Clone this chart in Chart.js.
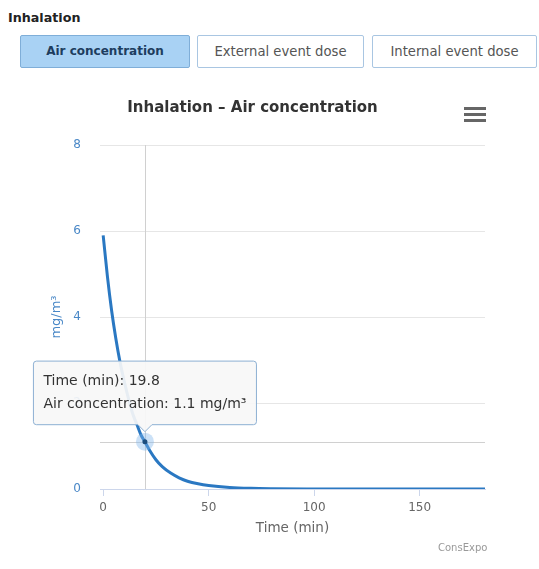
<!DOCTYPE html>
<html>
<head>
<meta charset="utf-8">
<script src="https://cdn.jsdelivr.net/npm/chart.js@4.4.1/dist/chart.umd.min.js"></script>
<style>
    body { margin: 0; background: #fff; font-family: "DejaVu Sans", sans-serif; width: 539px; height: 569px; position: relative; overflow: hidden; }
    .section { position: absolute; left: 8px; top: 10px; font-size: 12.7px; font-weight: bold; color: #222; }
    .btn { position: absolute; top: 35px; height: 33px; box-sizing: border-box; border: 1px solid #a9c6e2; border-radius: 2px;
           background: #fff; color: #555; font-size: 13.2px; line-height: 31px; text-align: center; }
    .btn.active { background: #a9d2f4; border-color: #7faed8; color: #1d3d5e; font-weight: bold; font-size: 12px; }
    #wrap { position: absolute; left: 0; top: 80px; width: 539px; height: 489px; }
    .menu { position: absolute; left: 464px; top: 107px; width: 22px; }
    .menu div { height: 3px; background: #666; margin-bottom: 3px; }
    .credit { position: absolute; left: 438px; top: 542px; font-size: 10px; color: #999; }
</style>
</head>
<body>
<div class="section">Inhalation</div>
<div class="btn active" style="left:20px;width:170px;">Air concentration</div>
<div class="btn" style="left:197px;width:167px;">External event dose</div>
<div class="btn" style="left:372px;width:165px;">Internal event dose</div>
<div id="wrap"><canvas id="chart"></canvas></div>
<div class="menu"><div></div><div></div><div></div></div>
<div class="credit">ConsExpo</div>

<script>
// values
const times = [0, 2, 4, 6, 8, 10, 12, 14, 16, 18, 19.8, 22, 25, 28, 32, 36, 40, 45, 50, 60, 70, 80, 100, 130, 160, 181];
const airConc = [5.9, 4.95, 4.15, 3.5, 2.95, 2.5, 2.1, 1.75, 1.5, 1.25, 1.1, 0.9, 0.68, 0.52, 0.37, 0.26, 0.18, 0.12, 0.08, 0.035, 0.015, 0.007, 0.002, 0, 0, 0];
const xTicks = [0, 50, 100, 150];
const yTicks = [0, 2, 4, 6, 8];
const hoverIndex = 10;

const lineColor = "#2a78c2";
const axisBlue = "#4a88c7";

Chart.defaults.font.family = "'DejaVu Sans', sans-serif";

// crosshair + halo on the active point
const crosshair = {
    id: "crosshair",
    beforeDatasetsDraw(chart) {
        const act = chart.getActiveElements();
        if (!act.length) return;
        const p = act[0].element;
        const a = chart.chartArea;
        const ctx = chart.ctx;
        ctx.save();
        ctx.strokeStyle = "#d0d0d0";
        ctx.lineWidth = 1;
        ctx.beginPath();
        ctx.moveTo(Math.round(p.x) + 0.5, a.top);
        ctx.lineTo(Math.round(p.x) + 0.5, a.bottom);
        ctx.moveTo(a.left, Math.round(p.y) + 0.5);
        ctx.lineTo(a.right, Math.round(p.y) + 0.5);
        ctx.stroke();
        ctx.restore();
    },
    afterDatasetsDraw(chart) {
        const act = chart.getActiveElements();
        if (!act.length) return;
        const p = act[0].element;
        const ctx = chart.ctx;
        ctx.save();
        ctx.fillStyle = "rgba(124,181,236,0.4)";
        ctx.beginPath();
        ctx.arc(p.x, p.y, 9, 0, Math.PI * 2);
        ctx.fill();
        ctx.fillStyle = "#1b4d7e";
        ctx.beginPath();
        ctx.arc(p.x, p.y, 2.5, 0, Math.PI * 2);
        ctx.fill();
        ctx.restore();
    }
};

const chart = new Chart(document.getElementById("chart"), {
    type: "line",
    data: {
        datasets: [{
            label: "Air concentration",
            data: times.map((t, i) => ({ x: t, y: airConc[i] })),
            borderColor: lineColor,
            borderWidth: 3,
            pointRadius: 0,
            pointHoverRadius: 0,
            cubicInterpolationMode: "monotone",
            fill: false
        }]
    },
    options: {
        responsive: true,
        maintainAspectRatio: false,
        animation: false,
        events: [],
        layout: { padding: { left: 20, right: 54, top: 0, bottom: 0 } },
        plugins: {
            legend: { display: false },
            title: {
                display: true,
                text: "Inhalation \u2013 Air concentration",
                color: "#333",
                font: { size: 15, weight: "bold" },
                padding: { top: 19, bottom: 28 }
            },
            tooltip: {
                enabled: true,
                xAlign: "center",
                yAlign: "bottom",
                backgroundColor: "rgba(247,247,247,0.92)",
                borderColor: "#8db0d3",
                borderWidth: 1,
                cornerRadius: 3,
                caretSize: 7,
                caretPadding: 10,
                padding: { left: 10, right: 10, top: 12, bottom: 12 },
                displayColors: false,
                titleColor: "#333",
                bodyColor: "#333",
                titleFont: { size: 14, weight: "normal" },
                bodyFont: { size: 14 },
                titleMarginBottom: 6,
                callbacks: {
                    title: items => "Time (min): " + items[0].parsed.x,
                    label: item => "Air concentration: " + item.parsed.y + " mg/m\u00b3"
                }
            }
        },
        scales: {
            x: {
                type: "linear",
                min: -1.5,
                max: 181,
                afterBuildTicks: s => { s.ticks = xTicks.map(v => ({ value: v })); },
                afterFit: s => { s.height = 80; },
                border: { display: true, color: "#ccd6eb", width: 1 },
                grid: { drawOnChartArea: false, drawTicks: true, tickLength: 7, color: "#ccd6eb" },
                ticks: { color: "#666", font: { size: 12 }, padding: 5 },
                title: { display: true, text: "Time (min)", color: "#666", font: { size: 13.5 }, padding: { bottom: 32 } }
            },
            y: {
                min: 0,
                max: 8,
                afterBuildTicks: s => { s.ticks = yTicks.map(v => ({ value: v })); },
                afterFit: s => { s.width = 80; },
                border: { display: false },
                grid: { color: "#e6e6e6", drawTicks: false },
                ticks: { color: axisBlue, font: { size: 12 }, padding: 19 },
                title: { display: true, text: "mg/m\u00b3", color: axisBlue, font: { size: 13 }, padding: { top: 29 } }
            }
        }
    },
    plugins: [crosshair]
});

const active = [{ datasetIndex: 0, index: hoverIndex }];
chart.setActiveElements(active);
chart.tooltip.setActiveElements(active, { x: 0, y: 0 });
chart.update();
</script>
</body>
</html>
